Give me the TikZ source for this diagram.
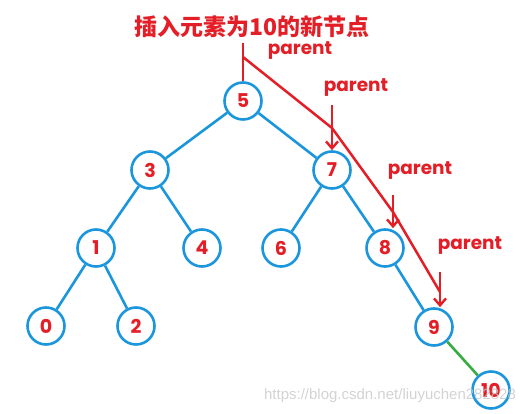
\documentclass[tikz,border=0pt]{standalone}
\usepackage{fontspec}
\setmainfont{Poppins}
\newfontfamily\cjk{Noto Sans CJK SC}
\newfontfamily\wmfont{Liberation Sans}
\usetikzlibrary{arrows.meta,positioning}
\definecolor{TreeBlue}{RGB}{27,150,220}
\definecolor{KeyRed}{RGB}{228,30,38}
\definecolor{NewGreen}{RGB}{52,172,66}
\definecolor{MarkGray}{RGB}{200,200,200}

\begin{document}
\begin{tikzpicture}[x=1pt,y=-1pt,
          nd/.style={circle,draw=TreeBlue,line width=2.6pt,fill=white,
                     minimum size=37pt,inner sep=0pt,
                     font=\fontsize{19}{19}\selectfont\bfseries,text=KeyRed},
          ed/.style={TreeBlue,line width=2.6pt},
          ge/.style={NewGreen,line width=2.6pt},
          rd/.style={KeyRed,line width=2.5pt},
          ra/.style={rd,-{Straight Barb[length=7pt,width=12pt,line width=2.4pt]}},
          lb/.style={font=\fontsize{18.5}{18.5}\selectfont\bfseries,text=KeyRed}
        ]
          \useasboundingbox (0,0) rectangle (529,414);

          \node(n5)[nd] at (243,101){5};
          \node(n3)[nd] at (150,170){3};
          \node(n7)[nd] at (332,170){7};
          \node(n1)[nd] at (96,248){1};
          \node(n4)[nd] at (202,248){4};
          \node(n6)[nd] at (281,248){6};
          \node(n8)[nd] at (385,248){8};
          \node(n0)[nd] at (46,326){0};
          \node(n2)[nd] at (136,326){2};
          \node(n9)[nd] at (434,327){9};
          \node(n10)[nd] at (491,390){10};

          \draw[ed] (n5) -- (n3);
          \draw[ed] (n5) -- (n7);
          \draw[ed] (n3) -- (n1);
          \draw[ed] (n3) -- (n4);
          \draw[ed] (n7) -- (n6);
          \draw[ed] (n7) -- (n8);
          \draw[ed] (n1) -- (n0);
          \draw[ed] (n1) -- (n2);
          \draw[ed] (n8) -- (n9);
          \draw[ge] (n9) -- (n10);

          \node(tt)[lb,font=\cjk\fontsize{23}{23}\selectfont\bfseries] at (252,27){插入元素为10的新节点};
          \node(l1)[lb] at (300,51){parent};
          \node(l2)[lb] at (356,88){parent};
          \node(l3)[lb] at (420,171){parent};
          \node(l4)[lb] at (470,246){parent};

          \coordinate (p0) at (243,43);
          \coordinate (q0) at (243,57);
          \coordinate (q1) at (332,128);
          \coordinate (q2) at (393,212);
          \coordinate (q3) at (440,292);
          \coordinate (a1) at (332,105);
          \coordinate (a2) at (393,195);
          \coordinate (a3) at (440,272);

          \draw[rd] (p0) -- (n5.north);
          \draw[rd] (q0) -- (q1) -- (q2) -- (q3);
          \draw[ra] (a1) -- (n7.north);
          \draw[ra] (a2) -- (a2 |- n8.north);
          \draw[ra] (a3) -- (a3 |- n9.north);

          \node(wm)[font=\wmfont\fontsize{15}{15}\selectfont,text=MarkGray,opacity=0.8] at (390,396){https://blog.csdn.net/liuyuchen282828};
        \end{tikzpicture}
\end{document}
